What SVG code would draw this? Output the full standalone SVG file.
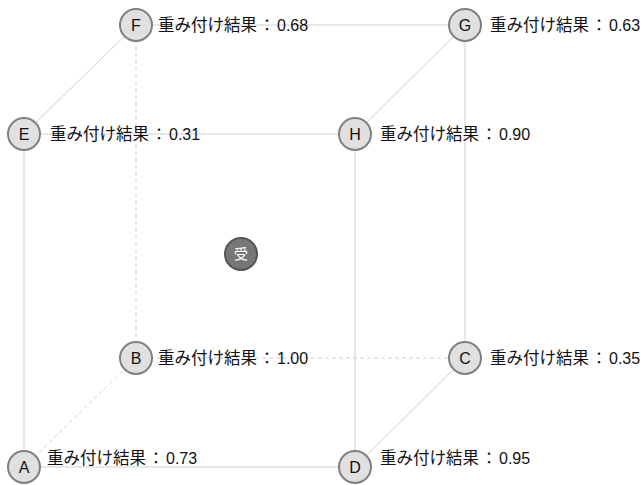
<svg xmlns="http://www.w3.org/2000/svg" width="643" height="485" viewBox="0 0 643 485">
<style>
.e{stroke:#cfcfcf;stroke-width:1;fill:none}
.d{stroke-dasharray:4,3}
.n{fill:#e0e0e0;stroke:#808080;stroke-width:2}
.t{font-family:"Liberation Sans","Noto Sans CJK JP",sans-serif;font-size:16px;fill:#111;dominant-baseline:central}
.c{text-anchor:middle}
.j{font-size:16.5px}
</style>
<rect width="643" height="485" fill="#fff"/>
<g id="connectors">
<line class="e" x1="136" y1="25" x2="465" y2="25"/>
<line class="e" x1="136" y1="25" x2="24" y2="134"/>
<line class="e d" x1="136" y1="25" x2="136" y2="358"/>
<line class="e" x1="24" y1="134" x2="355" y2="134"/>
<line class="e" x1="24" y1="134" x2="24" y2="467"/>
<line class="e" x1="465" y1="25" x2="355" y2="134"/>
<line class="e" x1="465" y1="25" x2="465" y2="358"/>
<line class="e" x1="355" y1="134" x2="355" y2="467"/>
<line class="e d" x1="136" y1="358" x2="465" y2="358"/>
<line class="e d" x1="24" y1="467" x2="136" y2="358"/>
<line class="e" x1="24" y1="467" x2="355" y2="467"/>
<line class="e" x1="465" y1="358" x2="355" y2="467"/>
</g>
<g id="node-F"><circle class="n" cx="136" cy="25" r="16"/><text class="t c" x="136" y="25">F</text><text class="t" x="158" y="25"><tspan class="j">重み付け結果</tspan><tspan dx="2">：</tspan><tspan dx="2">0.68</tspan></text></g>
<g id="node-G"><circle class="n" cx="465" cy="25" r="16"/><text class="t c" x="465" y="25">G</text><text class="t" x="490" y="25"><tspan class="j">重み付け結果</tspan><tspan dx="2">：</tspan><tspan dx="2">0.63</tspan></text></g>
<g id="node-E"><circle class="n" cx="24" cy="134" r="16"/><text class="t c" x="24" y="134">E</text><text class="t" x="50" y="134"><tspan class="j">重み付け結果</tspan><tspan dx="2">：</tspan><tspan dx="2">0.31</tspan></text></g>
<g id="node-H"><circle class="n" cx="355" cy="134" r="16"/><text class="t c" x="355" y="134">H</text><text class="t" x="380" y="134"><tspan class="j">重み付け結果</tspan><tspan dx="2">：</tspan><tspan dx="2">0.90</tspan></text></g>
<g id="node-B"><circle class="n" cx="136" cy="358" r="16"/><text class="t c" x="136" y="358">B</text><text class="t" x="158" y="358"><tspan class="j">重み付け結果</tspan><tspan dx="2">：</tspan><tspan dx="2">1.00</tspan></text></g>
<g id="node-C"><circle class="n" cx="465" cy="358" r="16"/><text class="t c" x="465" y="358">C</text><text class="t" x="490" y="358"><tspan class="j">重み付け結果</tspan><tspan dx="2">：</tspan><tspan dx="2">0.35</tspan></text></g>
<g id="node-A"><circle class="n" cx="24" cy="467" r="16"/><text class="t c" x="24" y="467">A</text><text class="t" x="47" y="458"><tspan class="j">重み付け結果</tspan><tspan dx="2">：</tspan><tspan dx="2">0.73</tspan></text></g>
<g id="node-D"><circle class="n" cx="355" cy="467" r="16"/><text class="t c" x="355" y="467">D</text><text class="t" x="380" y="458"><tspan class="j">重み付け結果</tspan><tspan dx="2">：</tspan><tspan dx="2">0.95</tspan></text></g>
<g id="node-receiver"><circle cx="241" cy="254" r="16" fill="#777" stroke="#555" stroke-width="2"/><text class="t c" x="241" y="254" style="fill:#fff;font-size:14px">受</text></g>
</svg>
